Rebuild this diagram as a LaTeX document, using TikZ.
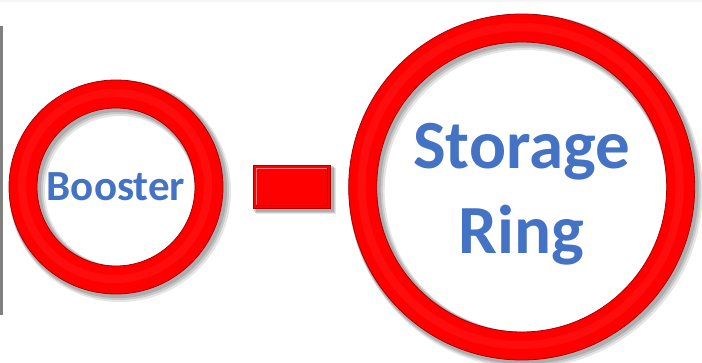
\documentclass[tikz,border=0pt]{standalone}
\usepackage{fontspec}
\setmainfont{Carlito}
\usepackage{tikz}
\usetikzlibrary{positioning,calc,backgrounds}
\definecolor{ringred}{RGB}{255,0,0}
\definecolor{edgered}{RGB}{170,0,0}
\definecolor{txtblue}{RGB}{68,114,196}

\begin{document}
\begin{tikzpicture}[x=1pt,y=-1pt,
  ring/.style={circle,draw=ringred,line width=28pt,inner sep=0pt},
  lbl/.style={font=\bfseries,text=txtblue,align=center,inner sep=0pt},
  blk/.style={draw=edgered,fill=ringred,line width=0.7pt,
              minimum width=77pt,minimum height=43pt,inner sep=0pt}]
\useasboundingbox (0,0) rectangle (702,363);
\fill[gray!8] (0,0) rectangle (702,2);
\draw[gray,line width=2.5pt] (1.5,26) -- (1.5,315);

\node[ring,minimum size=186pt] (booster) at (116,187) {};
\node[blk,right=30pt of booster] (link) {};
\node[ring,minimum size=318pt,right=18pt of link] (storage) {};

\node[lbl,font=\bfseries\fontsize{43}{43}\selectfont] (btxt) at (booster.center) {Booster};
\node[lbl,font=\bfseries\fontsize{69}{85}\selectfont] (stxt)
   at ($(storage.center)+(0,7)$) {Storage\\Ring};

\begin{scope}[on background layer]
\foreach \d/\o in {4/.10,3/.12,2/.14}{
  \draw[black,opacity=\o,line width=28pt+2*\d pt]
    ($(booster.center)+(\d,\d)$) circle[radius=93];
  \draw[black,opacity=\o,line width=28pt+2*\d pt]
    ($(storage.center)+(\d,\d)$) circle[radius=159];
  \fill[black,opacity=\o]
    ($(link.north west)+(\d,\d)+(-1,-1)$) rectangle ($(link.south east)+(\d,\d)+(1,1)$);
}
\end{scope}

\foreach \n/\r in {booster/93,storage/159}{
  \draw[edgered,line width=0.8pt] (\n.center) circle[radius=\r+14];
  \draw[edgered,line width=0.8pt] (\n.center) circle[radius=\r-14];
  \draw[white,opacity=.05,line width=8pt] ($(\n.center)+(-1,-1)$) circle[radius=\r];
}
\draw[red!55!white,line width=1pt]
  ($(link.south west)+(3,-3)$) -- ($(link.north west)+(3,3)$) -- ($(link.north east)+(-3,3)$);
\draw[red!55!black,line width=1pt]
  ($(link.north east)+(-3,3)$) -- ($(link.south east)+(-3,-3)$) -- ($(link.south west)+(3,-3)$);
\end{tikzpicture}
\end{document}
